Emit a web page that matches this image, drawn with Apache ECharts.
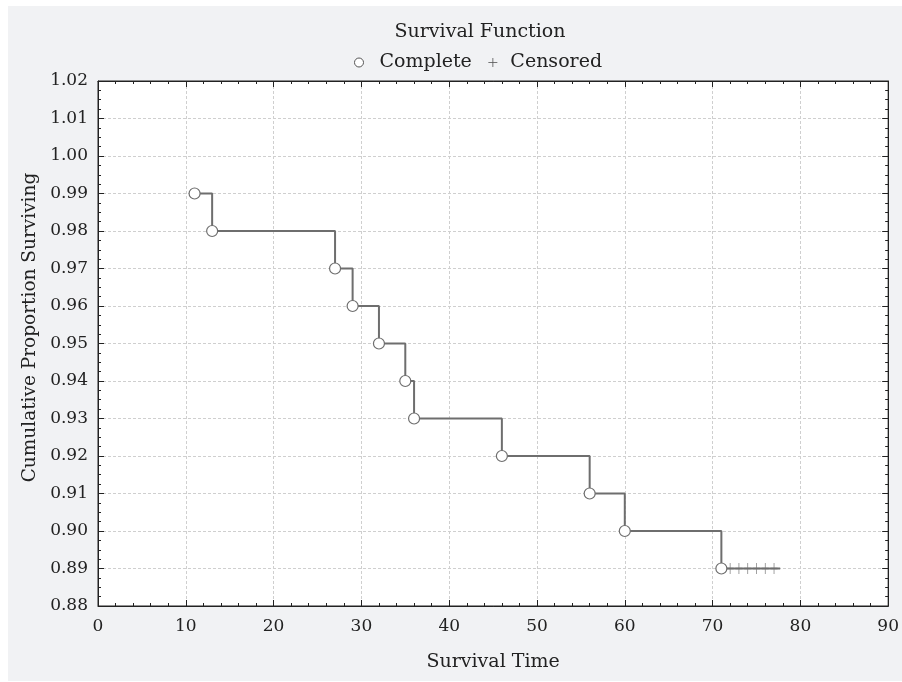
<!DOCTYPE html>
<html>
<head>
<meta charset="utf-8">
<script src="https://cdn.jsdelivr.net/npm/echarts@6/dist/echarts.min.js"></script>
<style>html,body{margin:0;padding:0;background:#fff;}#c{width:902px;height:682px;}</style>
</head>
<body>
<div id="c"></div>
<script>
// Complete (event) observations
const completeTimes = [11, 13, 27, 29, 32, 35, 36, 46, 56, 60, 71];
const completeSurv  = [0.99, 0.98, 0.97, 0.96, 0.95, 0.94, 0.93, 0.92, 0.91, 0.90, 0.89];
// Censored observations
const censoredTimes = [72, 73, 74, 75, 76, 77];
const censoredSurv  = [0.89, 0.89, 0.89, 0.89, 0.89, 0.89];
// end of follow-up
const lastTime = 77.7;
const lastSurv = 0.89;

const FONT = 'DejaVu Serif';
const GRAY = '#6e6e6e';

const completeData = completeTimes.map((t, i) => [t, completeSurv[i]]);
const censoredData = censoredTimes.map((t, i) => [t, censoredSurv[i]]);
const curveData = completeData.concat(censoredData, [[lastTime, lastSurv]]);

const plusPath = 'path://M0,-5L0,5M-5,0L5,0';

const chart = echarts.init(document.getElementById('c'), null, {renderer: 'canvas'});

const axisCommon = {
  axisLine: {show: true, onZero: false, lineStyle: {color: '#222', width: 1}},
  axisTick: {show: true, inside: true, length: 6, lineStyle: {color: '#222'}},
};

chart.setOption({
  backgroundColor: '#ffffff',
  animation: false,
  graphic: [{
    type: 'rect', z: -10, silent: true,
    shape: {x: 8, y: 6, width: 894, height: 675},
    style: {fill: '#f1f2f4'}
  }],
  title: {
    text: 'Survival Function',
    left: 475, top: 18, textAlign: 'center',
    textStyle: {fontFamily: FONT, fontSize: 19, fontWeight: 'normal', color: '#222'}
  },
  legend: {
    left: 349, top: 48,
    itemWidth: 9, itemHeight: 9, itemGap: 14,
    data: [
      {name: 'Complete', icon: 'circle', itemStyle: {color: '#fff', borderColor: '#555', borderWidth: 1},
       textStyle: {padding: [0, 0, 0, 11]}},
      {name: 'Censored', icon: plusPath, itemStyle: {color: 'none', borderColor: '#555', borderWidth: 1},
       textStyle: {padding: [0, 0, 0, 8]}}
    ],
    textStyle: {fontFamily: FONT, fontSize: 19, color: '#222'}
  },
  grid: {
    left: 98, right: 9, top: 81, bottom: 76,
    show: true, backgroundColor: '#ffffff', borderColor: '#222', borderWidth: 1
  },
  xAxis: [
    Object.assign({
      type: 'value', min: 0, max: 90, interval: 10, position: 'bottom',
      name: 'Survival Time', nameLocation: 'middle', nameGap: 47,
      nameTextStyle: {fontFamily: FONT, fontSize: 19, color: '#222'},
      axisLabel: {fontFamily: FONT, fontSize: 17, color: '#222', margin: 12},
      splitLine: {show: true, lineStyle: {color: '#cfcfcf', type: [3, 2], width: 1}}
    }, axisCommon, {minorTick: {show: true, splitNumber: 5, length: 3, lineStyle: {color: '#222'}}}),
    Object.assign({
      type: 'value', min: 0, max: 90, interval: 10, position: 'top',
      axisLabel: {show: false}, splitLine: {show: false}
    }, axisCommon, {minorTick: {show: true, splitNumber: 5, length: 3, lineStyle: {color: '#222'}}})
  ],
  yAxis: [
    Object.assign({
      type: 'value', min: 0.88, max: 1.02, interval: 0.01, position: 'left',
      name: 'Cumulative Proportion Surviving', nameLocation: 'middle', nameGap: 57,
      nameTextStyle: {fontFamily: FONT, fontSize: 18.5, color: '#222', padding: [0, 0, 0, 32]},
      axisLabel: {fontFamily: FONT, fontSize: 17, color: '#222', margin: 10,
        formatter: v => v.toFixed(2)},
      splitLine: {show: true, lineStyle: {color: '#cfcfcf', type: [3, 2], width: 1}}
    }, axisCommon, {minorTick: {show: true, splitNumber: 4, length: 3, lineStyle: {color: '#222'}}}),
    Object.assign({
      type: 'value', min: 0.88, max: 1.02, interval: 0.01, position: 'right',
      axisLabel: {show: false}, splitLine: {show: false}
    }, axisCommon, {minorTick: {show: true, splitNumber: 4, length: 3, lineStyle: {color: '#222'}}})
  ],
  series: [
    {
      name: 'curve', type: 'line', step: 'end', data: curveData,
      showSymbol: false, symbol: 'none',
      lineStyle: {color: GRAY, width: 2}, z: 2, silent: true
    },
    {
      name: 'Censored', type: 'scatter', data: censoredData,
      symbol: plusPath, symbolSize: [7, 11],
      itemStyle: {color: 'none', borderColor: GRAY, borderWidth: 1}, z: 3
    },
    {
      name: 'Complete', type: 'scatter', data: completeData,
      symbol: 'circle', symbolSize: 11,
      itemStyle: {color: '#ffffff', borderColor: GRAY, borderWidth: 1.2, opacity: 1}, z: 4
    }
  ]
});
</script>
</body>
</html>
